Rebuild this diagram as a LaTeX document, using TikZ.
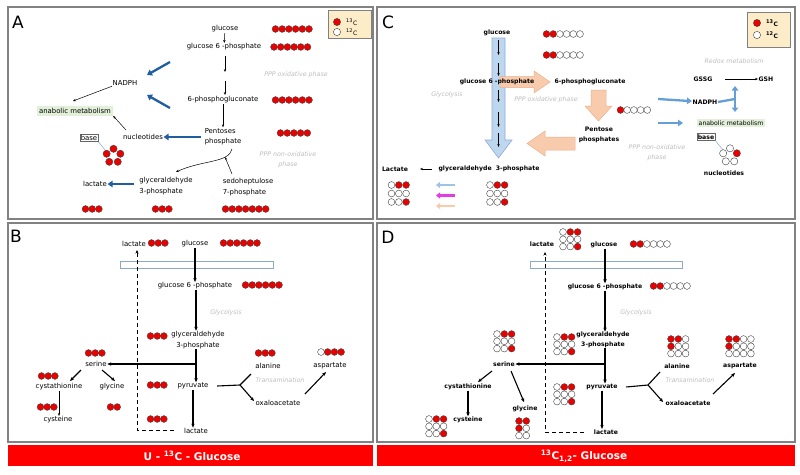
\documentclass[tikz,border=0pt]{standalone}
\usepackage{fontspec}
\setmainfont{DejaVu Sans}
\usetikzlibrary{arrows.meta}
\definecolor{cR}{RGB}{235,0,0}
\colorlet{rd}{cR}
\colorlet{wt}{white}
\definecolor{legbg}{RGB}{252,236,200}
\definecolor{anabg}{RGB}{226,239,217}
\definecolor{dblue}{RGB}{31,94,160}
\definecolor{lblue}{RGB}{100,160,215}
\definecolor{glyfill}{RGB}{189,215,238}
\definecolor{glydraw}{RGB}{143,170,220}
\definecolor{peach}{RGB}{248,203,173}
\definecolor{peachd}{RGB}{235,175,140}
\definecolor{magent}{RGB}{228,60,228}
\definecolor{ltblue}{RGB}{157,195,230}
\definecolor{memb}{RGB}{140,170,195}
\definecolor{gtxt}{RGB}{190,190,190}
\definecolor{framec}{RGB}{130,130,130}
\definecolor{barred}{RGB}{255,0,0}
\newcommand\rowat[4]{\foreach \colr [count=\kk from 0] in {#4}{\filldraw[ball, fill=\colr] ({#1+\kk*#3},{#2}) circle (3.4pt);}}
\newcommand\chainat[3]{\rowat{#1}{#2}{6.7}{#3}}
\newcommand\gridat[6]{\rowat{#1}{#2}{7.3}{#4}\rowat{#1}{#2+#3}{7.3}{#5}\rowat{#1}{#2+2*#3}{7.3}{#6}}
\newcommand\pentat[7]{\foreach \ang/\colr in {90/#3,162/#4,234/#5,306/#6,18/#7}{\filldraw[ball, fill=\colr] ({#1+7.2*cos(\ang)},{#2-7.2*sin(\ang)}) circle (3.6pt);}}
\begin{document}
\begin{tikzpicture}[x=1pt,y=-1pt,
  ta/.style={font=\fontsize{6.9}{10.5}\selectfont, inner sep=0.5pt, align=center},
  tc/.style={font=\bfseries\fontsize{6.15}{9.5}\selectfont, inner sep=0.5pt, align=center},
  gt/.style={font=\itshape\fontsize{6.3}{10}\selectfont, text=gtxt, inner sep=0pt, align=center},
  lbl/.style={font=\fontsize{17}{17}\selectfont, inner sep=0pt},
  leg/.style={font=\fontsize{6}{6}\selectfont, inner sep=0pt, anchor=west},
  ar/.style={-{Stealth[length=3pt,width=2.4pt]}, line width=0.5pt},
  tharr/.style={-{Stealth[length=4pt,width=3.4pt]}, line width=1.1pt},
  bluearr/.style={-{Triangle[length=5pt,width=6.5pt]}, line width=2.3pt, draw=dblue},
  lbarr/.style={-{Triangle[length=5pt,width=6.5pt]}, line width=2.3pt, draw=lblue},
  dasharr/.style={-{Stealth[length=3.5pt,width=3pt]}, line width=0.9pt, dash pattern=on 4pt off 3pt},
  ball/.style={draw=black!75, line width=0.4pt},
  framebox/.style={draw=framec, line width=1.3pt},
  bartext/.style={font=\bfseries\fontsize{10.5}{12}\selectfont, text=white, inner sep=0pt},
  membbox/.style={draw=memb, line width=0.6pt, fill=white}]
\useasboundingbox (0,0) rectangle (800,474);
\fill[white] (0,0) rectangle (800,474);
% frames
\draw[framebox] (8,7) rectangle (373,219);
\draw[framebox] (377,7) rectangle (795,219);
\draw[framebox] (8,223) rectangle (373,442);
\draw[framebox] (377,223) rectangle (795,442);
\fill[barred] (8,445) rectangle (373,466);
\fill[barred] (377,445) rectangle (795,466);
\node[bartext] (barB) at (192,456) {U - \textsuperscript{13}C - Glucose};
\node[bartext] (barD) at (584,456) {\textsuperscript{13}C\textsubscript{1,2}- Glucose};
% labels
\node[lbl] (labA) at (18,22) {A};
\node[lbl] (labB) at (16,236) {B};
\node[lbl] (labC) at (388,22) {C};
\node[lbl] (labD) at (388,237) {D};

%%%%%%%%%%%% PANEL A
\draw[draw=black!50, fill=legbg, line width=0.6pt] (328,10) rectangle (371,38);
\filldraw[ball, fill=rd] (337,22) circle (3.6pt);
\filldraw[ball, fill=wt] (337,32) circle (3.6pt);
\node[leg] (AlegR) at (346,22) {\textsuperscript{13}C};
\node[leg] (AlegW) at (346,32) {\textsuperscript{12}C};

\node[ta] (Aglc) at (225,29) {glucose};
\node[ta] (Ag6p) at (224,47) {glucose 6 -phosphate};
\node[ta] (A6pg) at (223,100) {6-phosphogluconate};
\node[ta, align=left] (App) at (223,136.5) {Pentoses\\phosphate};
\node[ta, align=left] (Ased) at (248,187) {sedoheptulose\\7-phosphate};
\node[ta, align=left] (Agap) at (166,186) {glyceraldehyde\\3-phosphate};
\node[ta] (Alac) at (95,184) {lactate};
\node[ta] (Anadph) at (125,83) {NADPH};
\node[ta, fill=anabg, inner sep=2pt] (Aanab) at (75,111) {anabolic metabolism};
\node[ta] (Anuc) at (143,137) {nucleotides};
\node[ta, draw=black!60, inner sep=1pt] (Abase) at (89,138) {base};
\node[gt] (Aox) at (296,75) {PPP oxidative phase};
\node[gt] (Anox) at (288,160) {PPP non-oxidative\\phase};

\coordinate (Aa1) at (225,56); \coordinate (Aa2) at (225,72);
\coordinate (Aa3) at (225,81); \coordinate (Aa4) at (225,95);
\draw[ar] (Aglc) -- (Ag6p);
\draw[ar] (Aa1) -- (Aa2);
\draw[ar] (Aa3) -- (Aa4);
\draw[ar] (A6pg) -- (App);
\draw[bluearr] (170,62) -- (147,75);
\draw[bluearr] (170,108) -- (147,95);
\draw[bluearr] (201,137) -- (Anuc);
\draw[bluearr] (134,184) -- (Alac);
\draw[ar] (Anadph.south west) -- (73,101);
\draw[ar] (126,130) -- (Aanab.south east);
\draw[ar] (232,149) .. controls (229,163) and (202,160) .. (176,172);
\draw[ar] (232,174) -- (225,157);
\draw[memb, line width=0.5pt] (Abase.south east) -- (106,151);
\pentat{113.5}{156}{rd}{rd}{rd}{rd}{rd}
\chainat{275.5}{29}{rd,rd,rd,rd,rd,rd}
\chainat{274}{47}{rd,rd,rd,rd,rd,rd}
\chainat{275.5}{100}{rd,rd,rd,rd,rd,rd}
\chainat{280.5}{133}{rd,rd,rd,rd,rd}
\chainat{85.5}{209}{rd,rd,rd}
\chainat{155.5}{209}{rd,rd,rd}
\chainat{225.5}{209}{rd,rd,rd,rd,rd,rd,rd}

%%%%%%%%%%%% PANEL C
\filldraw[fill=glyfill, draw=glydraw, line width=0.6pt] (492,38) -- (505,38) -- (505,140) -- (512,140) -- (498.5,158) -- (485,140) -- (492,140) -- cycle;
\filldraw[fill=peach, draw=peachd, line width=0.5pt] (500,76.5) -- (534,76.5) -- (534,71) -- (550,82) -- (534,93) -- (534,87.5) -- (500,87.5) -- cycle;
\filldraw[fill=peach, draw=peachd, line width=0.5pt] (591,90) -- (606,90) -- (606,106) -- (612,106) -- (598.5,121) -- (585,106) -- (591,106) -- cycle;
\filldraw[fill=peach, draw=peachd, line width=0.5pt] (575,137) -- (545,137) -- (545,131) -- (527,143.5) -- (545,156) -- (545,150) -- (575,150) -- cycle;
\foreach \ya/\yb in {40/55,63/76,90/102,112/127,133/147}{\draw[ar] (498.5,\ya) -- (498.5,\yb);}

\draw[draw=black!50, fill=legbg, line width=0.6pt] (747,12) rectangle (790,47);
\filldraw[ball, fill=rd] (757,23) circle (3.6pt);
\filldraw[ball, fill=wt] (757,35) circle (3.6pt);
\node[leg, font=\bfseries\fontsize{6}{6}\selectfont] (ClegR) at (766,23) {\textsuperscript{13}C};
\node[leg, font=\bfseries\fontsize{6}{6}\selectfont] (ClegW) at (766,35) {\textsuperscript{12}C};

\node[tc] (Cglc) at (497,33) {glucose};
\node[tc] (Cg6p) at (497,82) {glucose 6 -phosphate};
\node[tc] (C6pg) at (590,82) {6-phosphogluconate};
\node[tc] (Cpp) at (599,135) {Pentose\\phosphates};
\node[tc] (Cgap) at (489,169) {glyceraldehyde\ \ 3-phosphate};
\node[tc] (Clac) at (395,169) {Lactate};
\node[tc] (Cgssg) at (703,79) {GSSG};
\node[tc] (Cgsh) at (766,79) {GSH};
\node[tc] (Cnadph) at (705,102) {NADPH};
\node[tc, fill=anabg, inner sep=2pt, font=\fontsize{6.2}{9.5}\selectfont] (Canab) at (731,123) {anabolic metabolism};
\node[tc, draw=black!60, inner sep=1pt] (Cbase) at (706,137) {base};
\node[tc] (Cnuc) at (724,173) {nucleotides};
\node[gt] (Cgly) at (447,95) {Glycolysis};
\node[gt] (Cox) at (546,100) {PPP oxidative phase};
\node[gt] (Cnox) at (657,153) {PPP non-oxidative\\phase};
\node[gt] (Credox) at (734,61) {Redox metabolism};

\draw[ar] (725,79) -- (Cgsh);
\draw[ar] (432,169) -- (420,169);
\draw[lbarr] (658,99) -- (Cnadph);
\draw[lbarr] (658,123) -- (683,123);
\draw[{Triangle[length=4.5pt,width=6.5pt]}-{Triangle[length=4.5pt,width=6.5pt]}, line width=2.3pt, draw=lblue] (735,112) -- (735,86);
\draw[line width=2.3pt, draw=lblue] (Cnadph.east) -- (735,99);
\draw[-{Triangle[length=4pt,width=6pt]}, line width=2.3pt, draw=ltblue] (455,185) -- (436,185);
\draw[-{Triangle[length=4pt,width=6pt]}, line width=2.3pt, draw=magent] (455,195.5) -- (436,195.5);
\draw[-{Triangle[length=4pt,width=6pt]}, line width=2.3pt, draw=peach] (455,206) -- (436,206);
\draw[memb, line width=0.5pt] (Cbase.south east) -- (723,150);
\chainat{546.5}{34}{rd,rd,wt,wt,wt,wt}
\chainat{546.5}{55}{rd,rd,wt,wt,wt,wt}
\chainat{620.5}{110}{rd,wt,wt,wt,wt}
\pentat{730}{155.5}{wt}{wt}{wt}{wt}{rd}
\gridat{391.5}{185}{8.5}{wt,rd,rd}{wt,wt,wt}{wt,wt,rd}
\gridat{490}{185}{8.5}{wt,rd,rd}{wt,wt,wt}{wt,wt,rd}

%%%%%%%%%%%% PANEL B
\node[ta] (Blac1) at (134,244) {lactate};
\node[ta] (Bglc) at (195,244) {glucose};
\node[ta] (Bg6p) at (195,286) {glucose 6 -phosphate};
\node[ta] (Bgap) at (198,340) {glyceraldehyde\\3-phosphate};
\node[ta] (Bpyr) at (193,386) {pyruvate};
\node[ta] (Blac2) at (196,431) {lactate};
\node[ta] (Bser) at (96,364) {serine};
\node[ta] (Bcysta) at (59,387) {cystathionine};
\node[ta] (Bgly) at (112,387) {glycine};
\node[ta] (Bcys) at (58,420) {cysteine};
\node[ta] (Bala) at (268,366) {alanine};
\node[ta] (Boxa) at (278,403) {oxaloacetate};
\node[ta] (Basp) at (330,366) {aspartate};
\node[gt] (Bglyc) at (226,313) {Glycolysis};
\node[gt] (Btrans) at (280,380) {Transamination};
\draw[membbox] (120,261) rectangle (273,268);
\coordinate (Bx) at (196,0);
\draw[tharr] (Bglc) -- (Bglc |- Bg6p.north);
\draw[tharr] (Bg6p.south -| Bx) -- (Bx |- Bgap.north);
\draw[tharr] (Bgap.south -| Bx) -- (Bx |- Bpyr.north);
\draw[tharr] (Bx |- Bser.east) -- (Bser.east);
\draw[tharr] (Bpyr.south) -- (Bpyr.south |- Blac2.north);
\draw[dasharr] (174,430) -- (137,430) -- (137,250);
\draw[line width=1.1pt] (Bpyr.east) ++(8,0) -- (240,385) -- (251,374);
\draw[tharr] (240,385) -- (254,401);
\draw[tharr] (305,394) -- (326,372);
\draw[tharr] (81,370) -- (70,381);
\draw[tharr] (102,370) -- (115,381);
\draw[ar] (Bcysta.south) -- (Bcysta.south |- Bcys.north);
\chainat{151.5}{243}{rd,rd,rd}
\chainat{223.5}{243}{rd,rd,rd,rd,rd,rd}
\chainat{245.5}{285}{rd,rd,rd,rd,rd,rd}
\chainat{150.5}{336}{rd,rd,rd}
\chainat{150.5}{385}{rd,rd,rd}
\chainat{150.5}{419}{rd,rd,rd}
\chainat{88.5}{353}{rd,rd,rd}
\chainat{41.5}{376}{rd,rd,rd}
\chainat{40.5}{407}{rd,rd,rd}
\chainat{110.5}{407}{rd,rd}
\chainat{258.5}{353}{rd,rd,rd}
\chainat{321}{352}{wt,rd,rd,rd}

%%%%%%%%%%%% PANEL D
\node[tc] (Dlac1) at (542,244) {lactate};
\node[tc] (Dglc) at (604,245) {glucose};
\node[tc] (Dg6p) at (605,287) {glucose 6 -phosphate};
\node[tc] (Dgap) at (603,340) {glyceraldehyde\\3-phosphate};
\node[tc] (Dpyr) at (602,387) {pyruvate};
\node[tc] (Dlac2) at (606,432) {lactate};
\node[tc] (Dser) at (504,364) {serine};
\node[tc] (Dcysta) at (468,387) {cystathionine};
\node[tc] (Dcys) at (468,420) {cysteine};
\node[tc] (Dgly) at (525,409) {glycine};
\node[tc] (Dala) at (677,366) {alanine};
\node[tc] (Doxa) at (688,403) {oxaloacetate};
\node[tc] (Dasp) at (740,366) {aspartate};
\node[gt] (Dglyc) at (636,313) {Glycolysis};
\node[gt] (Dtrans) at (690,380) {Transamination};
\draw[membbox] (530,261) rectangle (682,268);
\coordinate (Dx) at (605,0);
\draw[tharr] (Dglc.south -| Dx) -- (Dx |- Dg6p.north);
\draw[tharr] (Dg6p.south -| Dx) -- (Dx |- Dgap.north);
\draw[tharr] (Dgap.south -| Dx) -- (Dx |- Dpyr.north);
\draw[tharr] (Dx |- Dser.east) -- (Dser.east);
\draw[tharr] (Dpyr.south) -- (Dpyr.south |- Dlac2.north);
\draw[dasharr] (584,432) -- (545,432) -- (545,252);
\draw[line width=1.1pt] (Dpyr.east) ++(8,0) -- (648,385) -- (660,372);
\draw[tharr] (648,385) -- (663,402);
\draw[tharr] (713,394) -- (735,373);
\draw[tharr] (492,371) -- (478,382);
\draw[tharr] (Dcysta.south) -- (Dcysta.south |- Dcys.north);
\draw[tharr] (511,371) -- (524,402);
\chainat{633.5}{244}{rd,rd,wt,wt,wt,wt}
\chainat{653.5}{286}{rd,rd,wt,wt,wt,wt}
\gridat{563}{232}{7.3}{wt,rd,rd}{wt,wt,wt}{wt,wt,rd}
\gridat{557}{337}{7.3}{wt,rd,rd}{wt,wt,wt}{wt,wt,rd}
\gridat{497}{334}{7.3}{wt,rd,rd}{wt,wt,wt}{wt,wt,rd}
\gridat{557}{387}{7.3}{wt,rd,rd}{wt,wt,wt}{wt,wt,rd}
\gridat{671}{339}{7.3}{rd,rd,wt}{rd,wt,wt}{wt,wt,wt}
\gridat{729}{339}{7.3}{rd,rd,wt,wt}{rd,wt,wt,wt}{wt,wt,wt,wt}
\gridat{429}{419}{7.3}{wt,rd,rd}{wt,wt,wt}{wt,wt,rd}
\gridat{519}{421}{7.3}{rd,rd}{rd,wt}{wt,wt}
\end{tikzpicture}
\end{document}
